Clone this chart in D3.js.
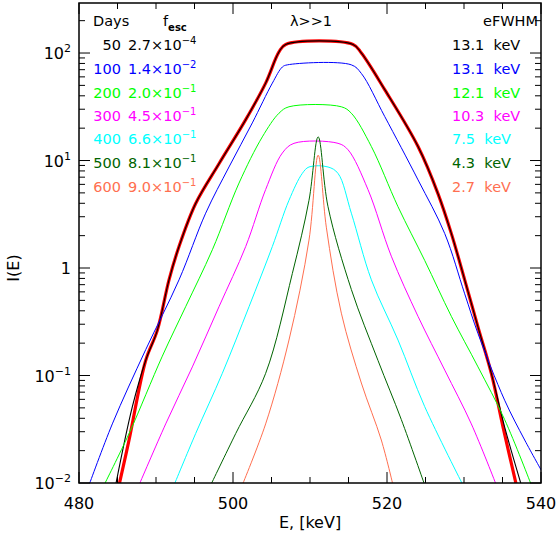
<!DOCTYPE html>
<html>
<head>
<meta charset="utf-8">
<script src="https://d3js.org/d3.v7.min.js"></script>
<style>
  body { margin: 0; background: #fff; }
  text { font-family: "DejaVu Sans", sans-serif; }
</style>
</head>
<body>
<div id="chart"></div>
<script>
// energy (keV) and log10 I(E)
const days = ["50", "100", "200", "300", "400", "500", "600"];
const fesc = [["2.7", "-4"], ["1.4", "-2"], ["2.0", "-1"], ["4.5", "-1"], ["6.6", "-1"], ["8.1", "-1"], ["9.0", "-1"]];
const fwhm = ["13.1", "13.1", "12.1", "10.3", "7.5", "4.3", "2.7"];
const colors = ["#000000", "#0000ff", "#00ff00", "#ff00ff", "#00ffff", "#006400", "#ff6f50"];

const E50 = [484.76, 486.93, 488.66, 490.17, 491.69, 492.99, 495.15, 498.18, 501.65, 504.24, 505.97, 506.84, 515.59, 516.67, 519.7, 524.03, 526.63, 528.36, 530.09, 531.82, 533.55, 535.28, 537.45];
const L50 = [-2.02, -1.29, -0.86, -0.58, -0.11, 0.20, 0.60, 0.97, 1.38, 1.72, 2.01, 2.08, 2.08, 2.0, 1.66, 1.13, 0.69, 0.32, -0.11, -0.55, -0.98, -1.48, -2.02];
const E50red = [485.2, 486.5, 488.66, 490.17, 491.69, 492.99, 495.15, 498.18, 501.65, 504.24, 505.97, 506.84, 515.59, 516.67, 519.7, 524.03, 526.63, 528.36, 530.09, 531.82, 533.55, 535.07, 536.8];
const L50red = [-2.02, -1.60, -0.86, -0.58, -0.11, 0.20, 0.60, 0.97, 1.38, 1.72, 2.01, 2.08, 2.08, 2.0, 1.66, 1.13, 0.69, 0.32, -0.11, -0.55, -0.98, -1.48, -2.02];
const E100 = [481.3, 484.33, 488.66, 492.99, 496.45, 499.48, 502.51, 505.11, 506.41, 507.06, 515.37, 516.67, 519.7, 524.03, 527.5, 530.09, 531.82, 535.28, 537.88, 540.26];
const L100 = [-2.02, -1.45, -0.76, -0.11, 0.51, 0.94, 1.35, 1.72, 1.87, 1.89, 1.89, 1.81, 1.41, 0.82, 0.32, -0.24, -0.61, -1.23, -1.60, -1.91];
const E200 = [483.25, 486.5, 490.82, 493.85, 497.32, 500.78, 503.81, 505.97, 507.27, 514.07, 515.37, 517.97, 521.43, 524.9, 528.36, 531.82, 535.28, 538.75];
const L200 = [-2.02, -1.54, -0.82, -0.36, 0.17, 0.79, 1.22, 1.44, 1.50, 1.50, 1.44, 1.13, 0.57, 0.07, -0.45, -0.92, -1.41, -2.02];
const E300 = [487.79, 491.26, 494.72, 498.18, 501.65, 504.24, 506.41, 507.92, 513.64, 514.94, 517.53, 520.56, 524.03, 527.5, 530.95, 534.2];
const L300 = [-2.02, -1.45, -0.92, -0.36, 0.20, 0.73, 1.07, 1.16, 1.16, 1.10, 0.73, 0.11, -0.45, -0.95, -1.45, -2.02];
const E400 = [492.34, 495.15, 498.61, 502.08, 505.11, 507.27, 509.0, 509.87, 512.34, 513.64, 515.37, 517.97, 521.43, 524.9, 529.87];
const L400 = [-2.02, -1.54, -0.98, -0.36, 0.20, 0.63, 0.88, 0.94, 0.94, 0.88, 0.51, -0.11, -0.67, -1.29, -2.02];
const E500 = [497.1, 500.35, 504.24, 507.71, 509.87, 511.06, 512.34, 515.37, 518.83, 521.86, 524.9];
const L500 = [-2.02, -1.54, -0.98, -0.05, 0.63, 1.22, 0.57, -0.20, -0.86, -1.41, -2.02];
const E600 = [501.2, 504.24, 507.27, 509.87, 511.06, 512.12, 514.07, 516.67, 519.26, 520.78];
const L600 = [-2.02, -1.45, -0.67, 0.26, 1.05, 0.38, -0.42, -1.07, -1.60, -2.02];

const series = [
  { E: E50red, L: L50red, color: "#ff0000", width: 3.2 },
  { E: E50, L: L50, color: colors[0], width: 1.1 },
  { E: E100, L: L100, color: colors[1], width: 1 },
  { E: E200, L: L200, color: colors[2], width: 1 },
  { E: E300, L: L300, color: colors[3], width: 1 },
  { E: E400, L: L400, color: colors[4], width: 1 },
  { E: E500, L: L500, color: colors[5], width: 1 },
  { E: E600, L: L600, color: colors[6], width: 1 }
];

const W = 559, H = 536;
const m = { left: 79, right: 18, top: 3, bottom: 53 };
const iw = W - m.left - m.right, ih = H - m.top - m.bottom;

const svg = d3.select("#chart").append("svg").attr("width", W).attr("height", H);
const g = svg.append("g").attr("transform", `translate(${m.left},${m.top})`);

const x = d3.scaleLinear().domain([480, 540]).range([0, iw]);
const y = d3.scaleLog().domain([0.01, 292]).range([ih, 0]);

svg.append("clipPath").attr("id", "clip").append("rect").attr("width", iw).attr("height", ih);

const line = d3.line().x(d => x(d[0])).y(d => y(d[1])).curve(d3.curveCatmullRom.alpha(0.5));
const curves = g.append("g").attr("clip-path", "url(#clip)");
series.forEach(s => {
  const pts = s.E.map((e, i) => [e, Math.pow(10, s.L[i])]);
  curves.append("path").datum(pts).attr("d", line)
    .attr("fill", "none").attr("stroke", s.color).attr("stroke-width", s.width)
    .attr("stroke-linejoin", "round");
});

// frame and inward ticks
g.append("rect").attr("width", iw).attr("height", ih).attr("fill", "none").attr("stroke", "#000").attr("stroke-width", 1.5);
const tk = g.append("g").attr("stroke", "#000").attr("stroke-width", 1);
d3.range(480, 541, 5).forEach(v => {
  const len = v % 20 === 0 ? 11 : 6;
  tk.append("line").attr("x1", x(v)).attr("x2", x(v)).attr("y1", ih).attr("y2", ih - len);
  tk.append("line").attr("x1", x(v)).attr("x2", x(v)).attr("y1", 0).attr("y2", len);
});
const yt = [];
for (let p = -2; p <= 2; p++) for (let k = 1; k <= 9; k++) { const v = k * Math.pow(10, p); if (v <= 292) yt.push([v, k === 1]); }
yt.forEach(([v, major]) => {
  const len = major ? 11 : 6;
  tk.append("line").attr("x1", 0).attr("x2", len).attr("y1", y(v)).attr("y2", y(v));
  tk.append("line").attr("x1", iw).attr("x2", iw - len).attr("y1", y(v)).attr("y2", y(v));
});

// tick labels
const fs = 16;
[480, 500, 520, 540].forEach(v => {
  g.append("text").attr("x", x(v)).attr("y", ih + 26).attr("text-anchor", "middle")
    .attr("font-size", fs).text(v);
});
const ylab = [[0.01, "-2"], [0.1, "-1"], [1, null], [10, "1"], [100, "2"]];
ylab.forEach(([v, e]) => {
  const t = g.append("text").attr("x", -8).attr("y", y(v) + 6).attr("text-anchor", "end").attr("font-size", fs);
  if (e === null) t.text("1");
  else {
    t.append("tspan").text("10");
    t.append("tspan").attr("dy", -7).attr("font-size", 11).text(e.replace("-", "\u2212"));
  }
});
svg.append("text").attr("x", m.left + iw / 2).attr("y", 528).attr("text-anchor", "middle").attr("font-size", fs).text("E, [keV]");
svg.append("text").attr("transform", "translate(19,268) rotate(-90)").attr("text-anchor", "middle").attr("font-size", fs).text("I(E)");

// legend
const lf = 14.5;
svg.append("text").attr("x", 93).attr("y", 26).attr("font-size", lf).text("Days");
const ft = svg.append("text").attr("x", 163).attr("y", 26).attr("font-size", lf);
ft.append("tspan").text("f");
ft.append("tspan").attr("dy", 5).attr("font-size", 10).attr("font-weight", "bold").text("esc");
svg.append("text").attr("x", 311).attr("y", 26).attr("text-anchor", "middle").attr("font-size", lf).text("\u03bb>>1");
svg.append("text").attr("x", 538).attr("y", 26).attr("text-anchor", "end").attr("font-size", lf).text("eFWHM");
const rowY = [50, 74, 98, 121, 144, 168, 192];
days.forEach((d, i) => {
  svg.append("text").attr("x", 121).attr("y", rowY[i]).attr("text-anchor", "end").attr("font-size", lf).attr("fill", colors[i]).text(d);
  const t = svg.append("text").attr("x", 128).attr("y", rowY[i]).attr("font-size", lf).attr("fill", colors[i]);
  t.append("tspan").text(fesc[i][0] + "\u00d710");
  t.append("tspan").attr("dy", -6).attr("font-size", 10).text(fesc[i][1].replace("-", "\u2212"));
  svg.append("text").attr("x", 452).attr("y", rowY[i]).attr("font-size", lf).attr("fill", colors[i])
    .attr("xml:space", "preserve").text(fwhm[i] + "  keV");
});
</script>
</body>
</html>
